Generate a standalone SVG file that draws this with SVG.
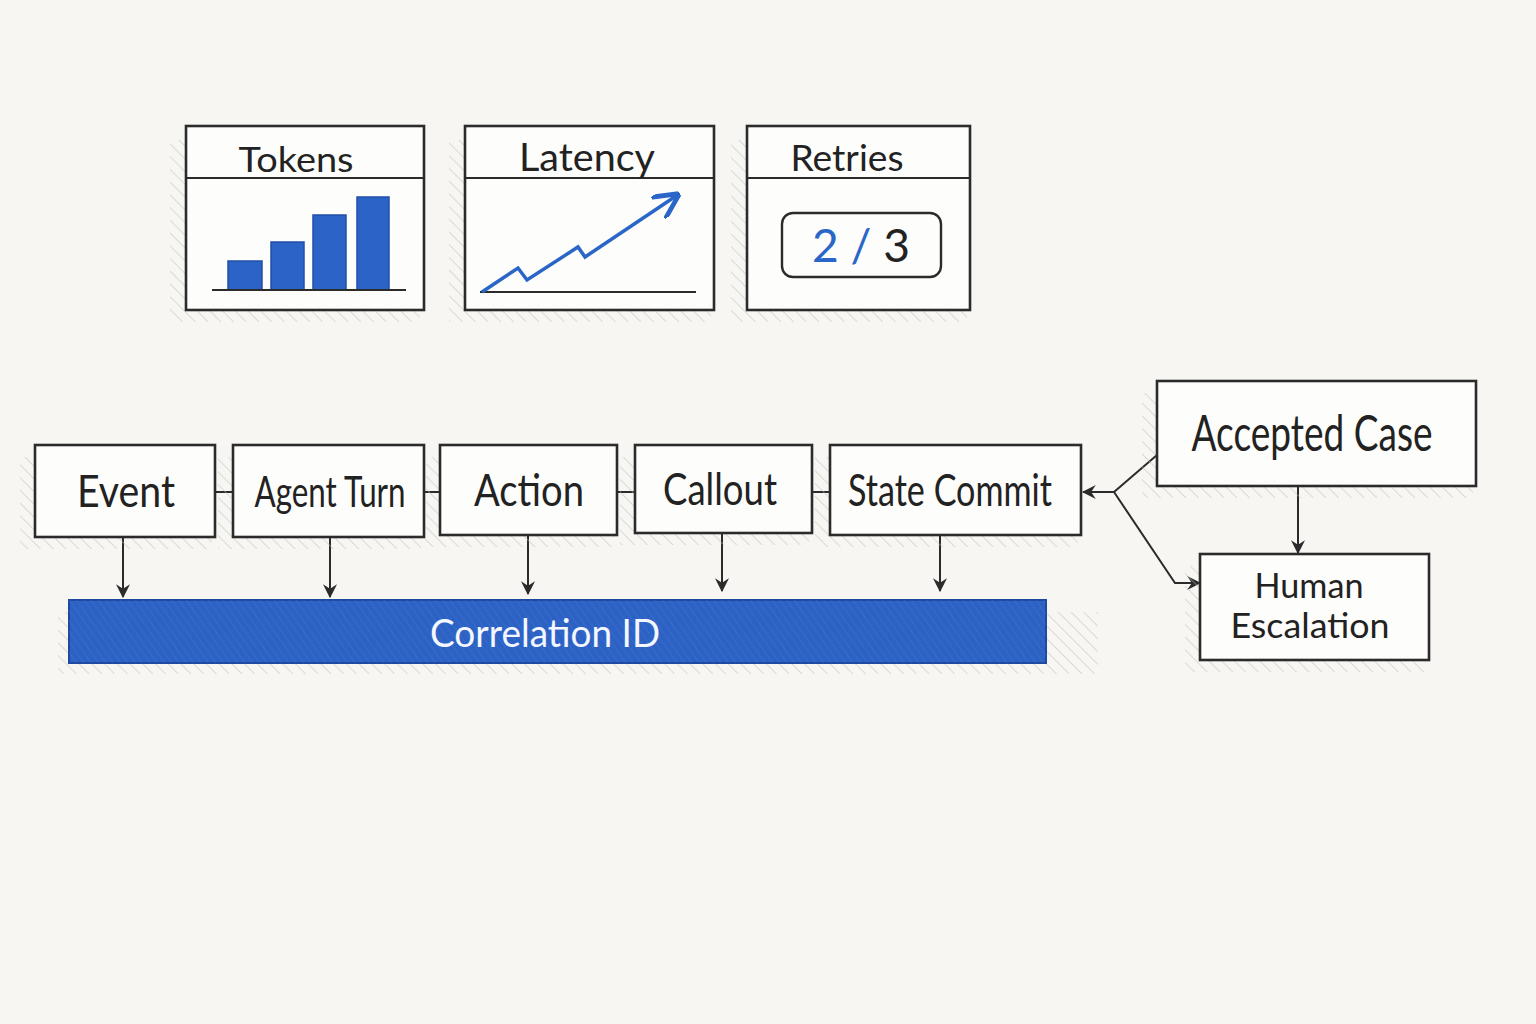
<svg xmlns="http://www.w3.org/2000/svg" width="1536" height="1024" viewBox="0 0 1536 1024">
<defs>
<pattern id="hatch" width="9" height="9" patternUnits="userSpaceOnUse" patternTransform="rotate(-45)">
<line x1="0" y1="0" x2="0" y2="9" stroke="#bdbdb8" stroke-width="1"/>
</pattern>
<pattern id="bluehatch" width="6" height="6" patternUnits="userSpaceOnUse" patternTransform="rotate(-35)">
<line x1="0" y1="0" x2="0" y2="6" stroke="#5d8ad8" stroke-width="1.2"/>
</pattern>
<marker id="arr" viewBox="0 0 12 12" refX="11" refY="6" markerWidth="14" markerHeight="14" markerUnits="userSpaceOnUse" orient="auto">
<path d="M0,0 L12,6 L0,12 L4,6 z" fill="#2b2b2b"/>
</marker>
<marker id="arrBlue" viewBox="0 0 12 12" refX="10" refY="6" markerWidth="26" markerHeight="26" markerUnits="userSpaceOnUse" orient="auto">
<path d="M0,0 L12,6 L0,12" fill="none" stroke="#2a66c8" stroke-width="2.2"/>
</marker>
</defs>
<style>
.box{fill:#fdfdfb;stroke:#2b2b2b;stroke-width:2.6}
.shadow{fill:url(#hatch)}
.lbl{font-family:Lato,"Open Sans","Liberation Sans",sans-serif;fill:#222;text-anchor:middle}
.conn{fill:none;stroke:#2b2b2b;stroke-width:2}
.div{stroke:#2b2b2b;stroke-width:2}
.bar{fill:#2b63c6;stroke:#1f4fa8;stroke-width:1.5}
</style>
<rect width="1536" height="1024" fill="#f7f6f2"/>

<g id="panel-tokens">
<rect class="shadow" x="170" y="140" width="250" height="182"/>
<rect class="box" x="186" y="126" width="238" height="184"/>
<line class="div" x1="186" y1="178" x2="424" y2="178"/>
<text class="lbl" x="296" y="172" font-size="34" textLength="115" lengthAdjust="spacingAndGlyphs">Tokens</text>
<rect class="bar" x="228" y="261" width="34" height="29"/>
<rect class="bar" x="271" y="242" width="33" height="48"/>
<rect class="bar" x="313" y="215" width="33" height="75"/>
<rect class="bar" x="357" y="197" width="32" height="93"/>
<line x1="212" y1="290" x2="406" y2="290" stroke="#2b2b2b" stroke-width="2"/>
</g>

<g id="panel-latency">
<rect class="shadow" x="449" y="140" width="262" height="182"/>
<rect class="box" x="465" y="126" width="249" height="184"/>
<line class="div" x1="465" y1="178" x2="714" y2="178"/>
<text class="lbl" x="587" y="171" font-size="38" textLength="136" lengthAdjust="spacingAndGlyphs">Latency</text>
<line x1="480" y1="292" x2="696" y2="292" stroke="#2b2b2b" stroke-width="2"/>
<polyline points="482,292 518,268 527,280 578,247 585,257 676,196" fill="none" stroke="#2a66c8" stroke-width="3.5" stroke-linejoin="miter" marker-end="url(#arrBlue)"/>
</g>

<g id="panel-retries">
<rect class="shadow" x="731" y="140" width="236" height="182"/>
<rect class="box" x="747" y="126" width="223" height="184"/>
<line class="div" x1="747" y1="178" x2="970" y2="178"/>
<text class="lbl" x="847" y="171" font-size="36" textLength="113" lengthAdjust="spacingAndGlyphs">Retries</text>
<rect x="782" y="213" width="159" height="64" rx="11" fill="#fdfdfb" stroke="#2b2b2b" stroke-width="2.4"/>
<text class="lbl" x="861" y="262" font-size="46" textLength="98" lengthAdjust="spacingAndGlyphs"><tspan fill="#2a66c8">2 / </tspan><tspan fill="#222">3</tspan></text>
</g>

<g id="connectors">
<line class="conn" x1="215" y1="492" x2="233" y2="492"/>
<line class="conn" x1="424" y1="492" x2="440" y2="492"/>
<line class="conn" x1="617" y1="492" x2="635" y2="492"/>
<line class="conn" x1="812" y1="492" x2="830" y2="492"/>
<line class="conn" x1="123" y1="537" x2="123" y2="597" marker-end="url(#arr)"/>
<line class="conn" x1="330" y1="537" x2="330" y2="597" marker-end="url(#arr)"/>
<line class="conn" x1="528" y1="535" x2="528" y2="594" marker-end="url(#arr)"/>
<line class="conn" x1="722" y1="533" x2="722" y2="591" marker-end="url(#arr)"/>
<line class="conn" x1="940" y1="535" x2="940" y2="591" marker-end="url(#arr)"/>
<polyline class="conn" points="1157,455 1114,492 1083,492" marker-end="url(#arr)"/>
<polyline class="conn" points="1114,492 1175,583 1200,583" marker-end="url(#arr)"/>
<line class="conn" x1="1298" y1="486" x2="1298" y2="553" marker-end="url(#arr)"/>
</g>

<g id="node-correlation">
<rect class="shadow" x="58" y="612" width="1040" height="62"/>
<rect x="69" y="600" width="977" height="63" fill="#2d62c5" stroke="#1d4aa0" stroke-width="2"/>
<rect x="69" y="600" width="977" height="63" fill="url(#bluehatch)" opacity="0.35"/>
<text class="lbl" x="545" y="647" font-size="38" style="fill:#f4f7ff" textLength="230" lengthAdjust="spacingAndGlyphs">Correlation ID</text>
</g>

<g id="node-event">
<rect class="shadow" x="20" y="457" width="192" height="92"/>
<rect class="box" x="35" y="445" width="180" height="92"/>
<text class="lbl" x="126" y="507" font-size="44" textLength="98" lengthAdjust="spacingAndGlyphs">Event</text>
</g>

<g id="node-agent-turn">
<rect class="shadow" x="218" y="457" width="203" height="92"/>
<rect class="box" x="233" y="445" width="191" height="92"/>
<text class="lbl" x="330" y="507" font-size="42" textLength="151" lengthAdjust="spacingAndGlyphs">Agent Turn</text>
</g>

<g id="node-action">
<rect class="shadow" x="425" y="457" width="189" height="90"/>
<rect class="box" x="440" y="445" width="177" height="90"/>
<text class="lbl" x="529" y="506" font-size="44" textLength="110" lengthAdjust="spacingAndGlyphs">Action</text>
</g>

<g id="node-callout">
<rect class="shadow" x="620" y="457" width="189" height="88"/>
<rect class="box" x="635" y="445" width="177" height="88"/>
<text class="lbl" x="720" y="505" font-size="44" textLength="114" lengthAdjust="spacingAndGlyphs">Callout</text>
</g>

<g id="node-state-commit">
<rect class="shadow" x="815" y="457" width="263" height="90"/>
<rect class="box" x="830" y="445" width="251" height="90"/>
<text class="lbl" x="950" y="506" font-size="44" textLength="204" lengthAdjust="spacingAndGlyphs">State Commit</text>
</g>

<g id="node-accepted-case">
<rect class="shadow" x="1142" y="393" width="331" height="105"/>
<rect class="box" x="1157" y="381" width="319" height="105"/>
<text class="lbl" x="1312" y="451" font-size="50" textLength="241" lengthAdjust="spacingAndGlyphs">Accepted Case</text>
</g>

<g id="node-human-escalation">
<rect class="shadow" x="1185" y="566" width="241" height="106"/>
<rect class="box" x="1200" y="554" width="229" height="106"/>
<text class="lbl" x="1309" y="598" font-size="34" textLength="109" lengthAdjust="spacingAndGlyphs">Human</text>
<text class="lbl" x="1310" y="638" font-size="34" textLength="159" lengthAdjust="spacingAndGlyphs">Escalation</text>
</g>
</svg>
